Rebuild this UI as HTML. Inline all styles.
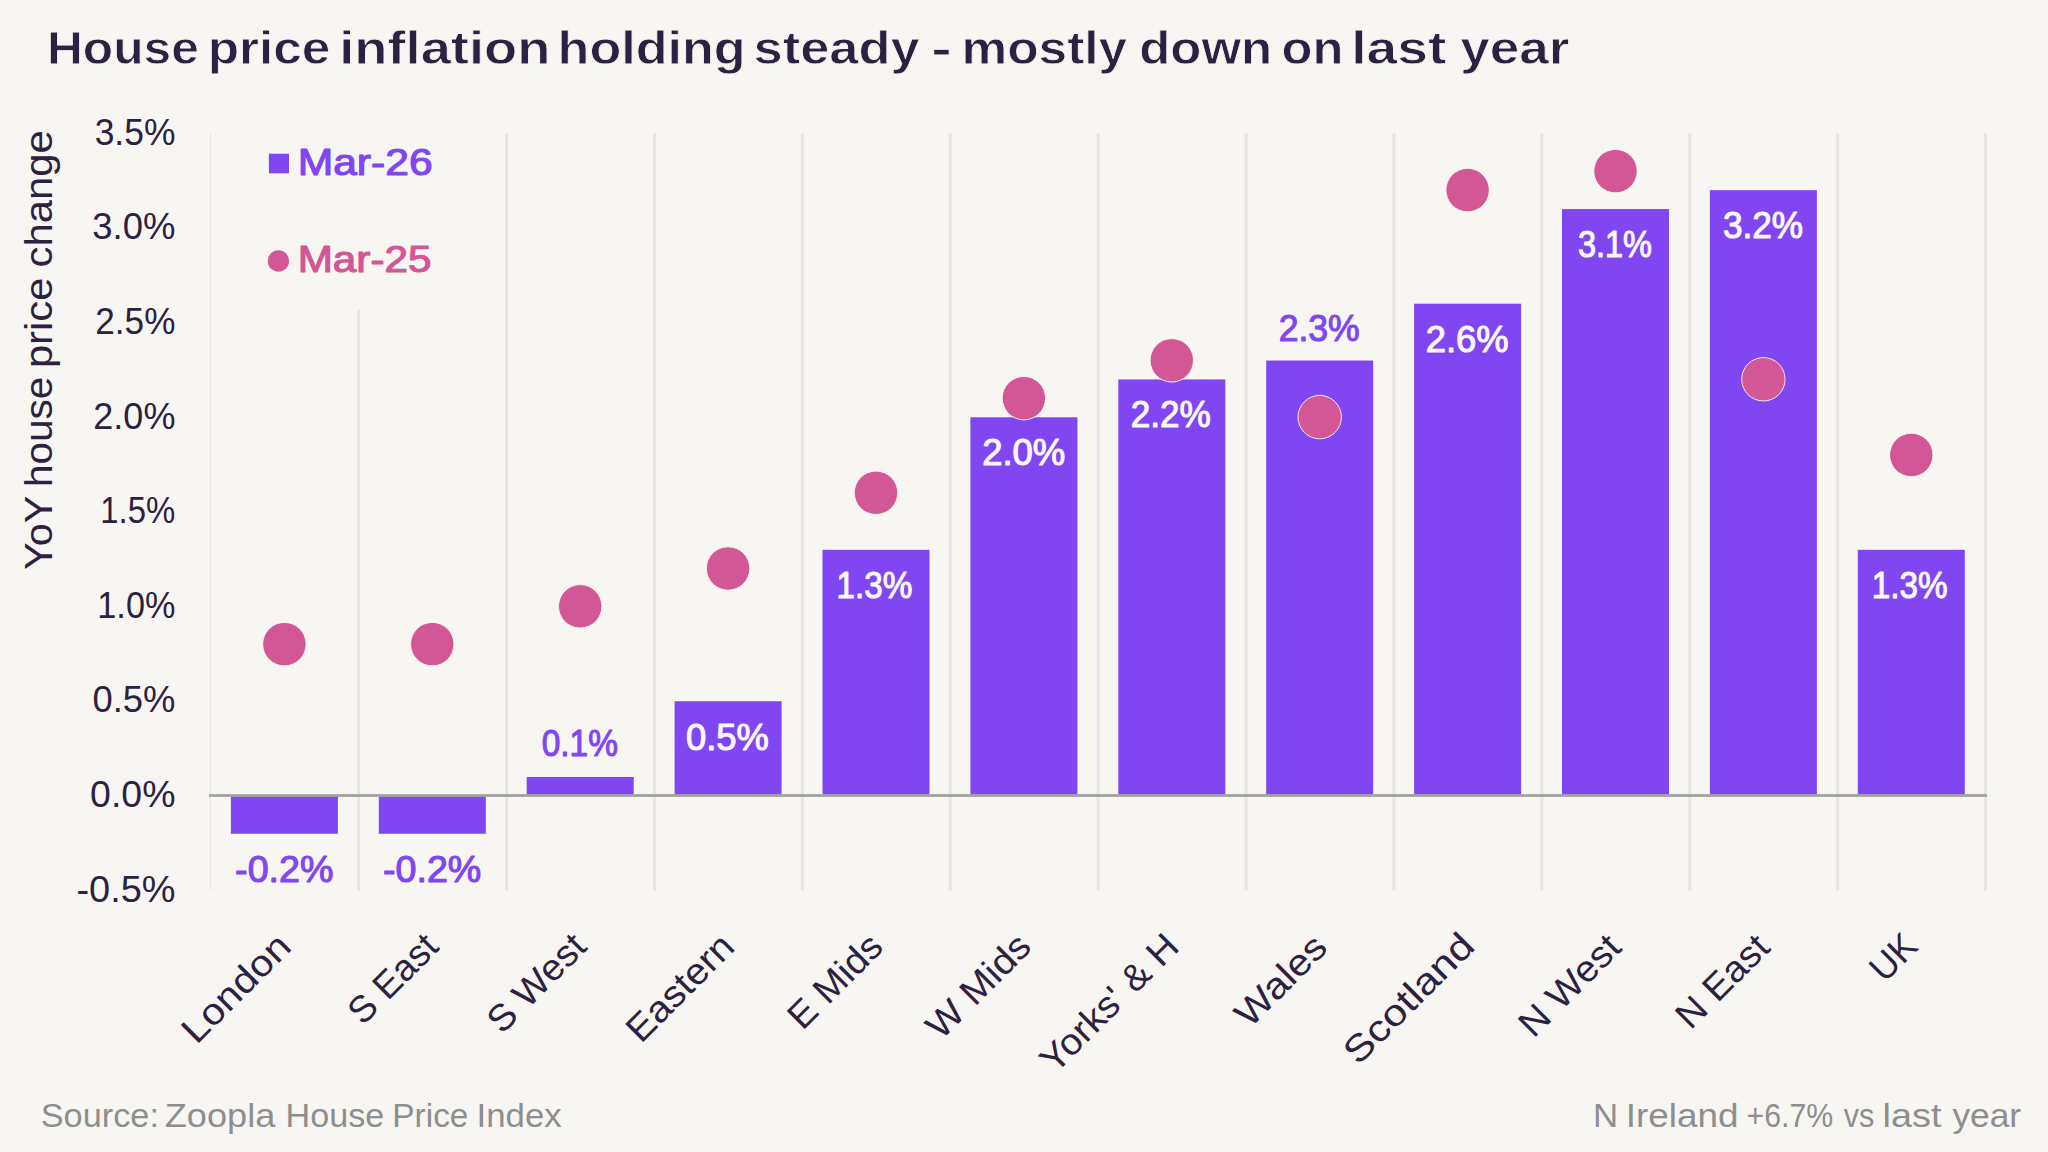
<!DOCTYPE html>
<html lang="en"><head><meta charset="utf-8"><title>House price inflation holding steady</title>
<style>html,body{margin:0;padding:0;background:#f7f6f3;}body{width:2048px;height:1152px;overflow:hidden;}svg{display:block;}text{font-family:"Liberation Sans",sans-serif;}</style>
</head><body>
<svg width="2048" height="1152" viewBox="0 0 2048 1152">
<rect width="2048" height="1152" fill="#f7f6f3"/>
<rect x="210" y="133.2" width="1.1" height="757.3" fill="#e8e6e4"/>
<rect x="357.15" y="133.2" width="3" height="757.3" fill="#e8e6e4"/>
<rect x="505.05" y="133.2" width="3" height="757.3" fill="#e8e6e4"/>
<rect x="652.95" y="133.2" width="3" height="757.3" fill="#e8e6e4"/>
<rect x="800.85" y="133.2" width="3" height="757.3" fill="#e8e6e4"/>
<rect x="948.75" y="133.2" width="3" height="757.3" fill="#e8e6e4"/>
<rect x="1096.65" y="133.2" width="3" height="757.3" fill="#e8e6e4"/>
<rect x="1244.55" y="133.2" width="3" height="757.3" fill="#e8e6e4"/>
<rect x="1392.45" y="133.2" width="3" height="757.3" fill="#e8e6e4"/>
<rect x="1540.35" y="133.2" width="3" height="757.3" fill="#e8e6e4"/>
<rect x="1688.25" y="133.2" width="3" height="757.3" fill="#e8e6e4"/>
<rect x="1836.15" y="133.2" width="3" height="757.3" fill="#e8e6e4"/>
<rect x="1984.05" y="133.2" width="3" height="757.3" fill="#e8e6e4"/>
<rect x="250" y="125" width="200" height="185" fill="#f7f6f3"/>
<rect x="230.90" y="795.50" width="107.00" height="38.26" fill="#8046f1"/>
<rect x="378.80" y="795.50" width="107.00" height="38.26" fill="#8046f1"/>
<rect x="526.70" y="776.97" width="107.00" height="18.53" fill="#8046f1"/>
<rect x="674.60" y="701.25" width="107.00" height="94.25" fill="#8046f1"/>
<rect x="822.50" y="549.81" width="107.00" height="245.69" fill="#8046f1"/>
<rect x="970.40" y="417.30" width="107.00" height="378.20" fill="#8046f1"/>
<rect x="1118.30" y="379.44" width="107.00" height="416.06" fill="#8046f1"/>
<rect x="1266.20" y="360.51" width="107.00" height="434.99" fill="#8046f1"/>
<rect x="1414.10" y="303.72" width="107.00" height="491.78" fill="#8046f1"/>
<rect x="1562.00" y="209.07" width="107.00" height="586.43" fill="#8046f1"/>
<rect x="1709.90" y="190.14" width="107.00" height="605.36" fill="#8046f1"/>
<rect x="1857.80" y="549.81" width="107.00" height="245.69" fill="#8046f1"/>
<rect x="209" y="794.1" width="1778" height="2.8" fill="#a3a2a2"/>
<circle cx="284.40" cy="644.14" r="21.7" fill="#d35795" stroke="#fbf7f9" stroke-width="0.9"/>
<circle cx="432.30" cy="644.14" r="21.7" fill="#d35795" stroke="#fbf7f9" stroke-width="0.9"/>
<circle cx="580.20" cy="606.30" r="21.7" fill="#d35795" stroke="#fbf7f9" stroke-width="0.9"/>
<circle cx="728.10" cy="568.46" r="21.7" fill="#d35795" stroke="#fbf7f9" stroke-width="0.9"/>
<circle cx="876.00" cy="492.78" r="21.7" fill="#d35795" stroke="#fbf7f9" stroke-width="0.9"/>
<circle cx="1023.90" cy="398.18" r="21.7" fill="#d35795" stroke="#fbf7f9" stroke-width="0.9"/>
<circle cx="1171.80" cy="360.34" r="21.7" fill="#d35795" stroke="#fbf7f9" stroke-width="0.9"/>
<circle cx="1319.70" cy="417.10" r="21.7" fill="#d35795" stroke="#fbf7f9" stroke-width="0.9"/>
<circle cx="1467.60" cy="190.06" r="21.7" fill="#d35795" stroke="#fbf7f9" stroke-width="0.9"/>
<circle cx="1615.50" cy="171.14" r="21.7" fill="#d35795" stroke="#fbf7f9" stroke-width="0.9"/>
<circle cx="1763.40" cy="379.26" r="21.7" fill="#d35795" stroke="#fbf7f9" stroke-width="0.9"/>
<circle cx="1911.30" cy="454.94" r="21.7" fill="#d35795" stroke="#fbf7f9" stroke-width="0.9"/>
<text y="64.40" font-size="47" font-weight="700" fill="#2c2140" stroke="#f7f6f3" stroke-width="0.80" stroke-linejoin="round"><tspan x="46.95" textLength="151.83" lengthAdjust="spacingAndGlyphs">House</tspan> <tspan x="207.67" textLength="122.61" lengthAdjust="spacingAndGlyphs">price</tspan> <tspan x="339.30" textLength="211.00" lengthAdjust="spacingAndGlyphs">inflation</tspan> <tspan x="557.55" textLength="188.14" lengthAdjust="spacingAndGlyphs">holding</tspan> <tspan x="753.57" textLength="166.05" lengthAdjust="spacingAndGlyphs">steady</tspan> <tspan x="931.24" textLength="20.44" lengthAdjust="spacingAndGlyphs">-</tspan> <tspan x="961.46" textLength="165.74" lengthAdjust="spacingAndGlyphs">mostly</tspan> <tspan x="1139.26" textLength="132.91" lengthAdjust="spacingAndGlyphs">down</tspan> <tspan x="1281.47" textLength="61.85" lengthAdjust="spacingAndGlyphs">on</tspan> <tspan x="1351.24" textLength="95.09" lengthAdjust="spacingAndGlyphs">last</tspan> <tspan x="1460.20" textLength="109.20" lengthAdjust="spacingAndGlyphs">year</tspan></text>
<text x="94.67" y="144.80" font-size="37" font-weight="400" fill="#2c2140" textLength="80.73" lengthAdjust="spacingAndGlyphs">3.5%</text>
<text x="92.23" y="239.40" font-size="37" font-weight="400" fill="#2c2140" textLength="83.22" lengthAdjust="spacingAndGlyphs">3.0%</text>
<text x="95.34" y="334.00" font-size="37" font-weight="400" fill="#2c2140" textLength="80.05" lengthAdjust="spacingAndGlyphs">2.5%</text>
<text x="93.30" y="428.60" font-size="37" font-weight="400" fill="#2c2140" textLength="82.13" lengthAdjust="spacingAndGlyphs">2.0%</text>
<text x="100.33" y="523.20" font-size="37" font-weight="400" fill="#2c2140" textLength="74.98" lengthAdjust="spacingAndGlyphs">1.5%</text>
<text x="97.33" y="617.80" font-size="37" font-weight="400" fill="#2c2140" textLength="78.03" lengthAdjust="spacingAndGlyphs">1.0%</text>
<text x="92.44" y="712.40" font-size="37" font-weight="400" fill="#2c2140" textLength="83.00" lengthAdjust="spacingAndGlyphs">0.5%</text>
<text x="90.10" y="807.00" font-size="37" font-weight="400" fill="#2c2140" textLength="85.38" lengthAdjust="spacingAndGlyphs">0.0%</text>
<text x="76.49" y="901.60" font-size="37" font-weight="400" fill="#2c2140" textLength="99.02" lengthAdjust="spacingAndGlyphs">-0.5%</text>
<text transform="translate(52.3,0) rotate(-90)" y="0" font-size="38.5" fill="#2c2140"><tspan x="-570.12" textLength="73.68" lengthAdjust="spacingAndGlyphs">YoY</tspan> <tspan x="-487.03" textLength="110.34" lengthAdjust="spacingAndGlyphs">house</tspan> <tspan x="-368.11" textLength="90.49" lengthAdjust="spacingAndGlyphs">price</tspan> <tspan x="-267.58" textLength="137.50" lengthAdjust="spacingAndGlyphs">change</tspan></text>
<rect x="268.9" y="153.7" width="20.1" height="19.6" fill="#8046f1"/>
<text x="297.66" y="174.50" font-size="36.3" font-weight="400" fill="#8046f1" stroke="#8046f1" stroke-width="1.15" stroke-linejoin="round" textLength="134.98" lengthAdjust="spacingAndGlyphs">Mar-26</text>
<circle cx="278.4" cy="261" r="10.7" fill="#d35795"/>
<text x="297.69" y="271.70" font-size="36.3" font-weight="400" fill="#d35795" stroke="#d35795" stroke-width="1.15" stroke-linejoin="round" textLength="133.72" lengthAdjust="spacingAndGlyphs">Mar-25</text>
<text x="235.11" y="881.90" font-size="36.5" font-weight="400" fill="#8046f1" stroke="#8046f1" stroke-width="1.10" stroke-linejoin="round" textLength="98.25" lengthAdjust="spacingAndGlyphs">-0.2%</text>
<text x="383.01" y="881.90" font-size="36.5" font-weight="400" fill="#8046f1" stroke="#8046f1" stroke-width="1.10" stroke-linejoin="round" textLength="98.25" lengthAdjust="spacingAndGlyphs">-0.2%</text>
<text x="541.71" y="756.20" font-size="36.5" font-weight="400" fill="#8046f1" stroke="#8046f1" stroke-width="1.10" stroke-linejoin="round" textLength="76.17" lengthAdjust="spacingAndGlyphs">0.1%</text>
<text x="686.00" y="749.50" font-size="36.5" font-weight="400" fill="#f9f7f6" stroke="#f9f7f6" stroke-width="1.10" stroke-linejoin="round" textLength="82.90" lengthAdjust="spacingAndGlyphs">0.5%</text>
<text x="836.46" y="597.70" font-size="36.5" font-weight="400" fill="#f9f7f6" stroke="#f9f7f6" stroke-width="1.10" stroke-linejoin="round" textLength="75.82" lengthAdjust="spacingAndGlyphs">1.3%</text>
<text x="982.13" y="465.20" font-size="36.5" font-weight="400" fill="#f9f7f6" stroke="#f9f7f6" stroke-width="1.10" stroke-linejoin="round" textLength="83.17" lengthAdjust="spacingAndGlyphs">2.0%</text>
<text x="1130.69" y="427.10" font-size="36.5" font-weight="400" fill="#f9f7f6" stroke="#f9f7f6" stroke-width="1.10" stroke-linejoin="round" textLength="80.15" lengthAdjust="spacingAndGlyphs">2.2%</text>
<text x="1278.67" y="340.70" font-size="36.5" font-weight="400" fill="#8046f1" stroke="#8046f1" stroke-width="1.10" stroke-linejoin="round" textLength="81.09" lengthAdjust="spacingAndGlyphs">2.3%</text>
<text x="1425.73" y="351.50" font-size="36.5" font-weight="400" fill="#f9f7f6" stroke="#f9f7f6" stroke-width="1.10" stroke-linejoin="round" textLength="82.86" lengthAdjust="spacingAndGlyphs">2.6%</text>
<text x="1577.93" y="256.80" font-size="36.5" font-weight="400" fill="#f9f7f6" stroke="#f9f7f6" stroke-width="1.10" stroke-linejoin="round" textLength="73.91" lengthAdjust="spacingAndGlyphs">3.1%</text>
<text x="1722.93" y="237.90" font-size="36.5" font-weight="400" fill="#f9f7f6" stroke="#f9f7f6" stroke-width="1.10" stroke-linejoin="round" textLength="80.22" lengthAdjust="spacingAndGlyphs">3.2%</text>
<text x="1871.76" y="597.70" font-size="36.5" font-weight="400" fill="#f9f7f6" stroke="#f9f7f6" stroke-width="1.10" stroke-linejoin="round" textLength="75.82" lengthAdjust="spacingAndGlyphs">1.3%</text>
<text class="cat" transform="translate(196.39,1045.35) rotate(-45)" font-size="37" fill="#2c2140" textLength="136.65" lengthAdjust="spacingAndGlyphs">London</text>
<text class="cat" transform="translate(362.80,1026.36) rotate(-45)" font-size="37" fill="#2c2140" textLength="109.80" lengthAdjust="spacingAndGlyphs">S East</text>
<text class="cat" transform="translate(502.01,1035.10) rotate(-45)" font-size="37" fill="#2c2140" textLength="122.38" lengthAdjust="spacingAndGlyphs">S West</text>
<text class="cat" transform="translate(640.92,1044.25) rotate(-45)" font-size="37" fill="#2c2140" textLength="135.11" lengthAdjust="spacingAndGlyphs">Eastern</text>
<text class="cat" transform="translate(802.58,1031.31) rotate(-45)" font-size="37" fill="#2c2140" textLength="116.58" lengthAdjust="spacingAndGlyphs">E Mids</text>
<text class="cat" transform="translate(940.98,1040.99) rotate(-45)" font-size="37" fill="#2c2140" textLength="130.40" lengthAdjust="spacingAndGlyphs">W Mids</text>
<text class="cat" transform="translate(1055.08,1074.69) rotate(-45)" font-size="37" fill="#2c2140" textLength="178.16" lengthAdjust="spacingAndGlyphs">Yorks' &amp; H</text>
<text class="cat" transform="translate(1249.83,1029.05) rotate(-45)" font-size="37" fill="#2c2140" textLength="112.50" lengthAdjust="spacingAndGlyphs">Wales</text>
<text class="cat" transform="translate(1358.35,1066.36) rotate(-45)" font-size="37" fill="#2c2140" textLength="167.20" lengthAdjust="spacingAndGlyphs">Scotland</text>
<text class="cat" transform="translate(1533.56,1039.04) rotate(-45)" font-size="37" fill="#2c2140" textLength="126.72" lengthAdjust="spacingAndGlyphs">N West</text>
<text class="cat" transform="translate(1690.40,1030.66) rotate(-45)" font-size="37" fill="#2c2140" textLength="114.97" lengthAdjust="spacingAndGlyphs">N East</text>
<text class="cat" transform="translate(1884.47,983.52) rotate(-45)" font-size="37" fill="#2c2140" textLength="49.70" lengthAdjust="spacingAndGlyphs">UK</text>
<text y="1127.40" font-size="32.5" font-weight="400" fill="#8e8e8e"><tspan x="40.76" textLength="118.18" lengthAdjust="spacingAndGlyphs">Source:</tspan> <tspan x="164.72" textLength="110.58" lengthAdjust="spacingAndGlyphs">Zoopla</tspan> <tspan x="285.58" textLength="98.69" lengthAdjust="spacingAndGlyphs">House</tspan> <tspan x="392.34" textLength="76.10" lengthAdjust="spacingAndGlyphs">Price</tspan> <tspan x="476.58" textLength="85.11" lengthAdjust="spacingAndGlyphs">Index</tspan></text>
<text y="1127.30" font-size="32.5" font-weight="400" fill="#8e8e8e"><tspan x="1593.13" textLength="25.13" lengthAdjust="spacingAndGlyphs">N</tspan> <tspan x="1625.69" textLength="112.72" lengthAdjust="spacingAndGlyphs">Ireland</tspan> <tspan x="1746.49" textLength="86.70" lengthAdjust="spacingAndGlyphs">+6.7%</tspan> <tspan x="1843.75" textLength="30.52" lengthAdjust="spacingAndGlyphs">vs</tspan> <tspan x="1882.55" textLength="58.88" lengthAdjust="spacingAndGlyphs">last</tspan> <tspan x="1952.41" textLength="68.73" lengthAdjust="spacingAndGlyphs">year</tspan></text>
</svg></body></html>
